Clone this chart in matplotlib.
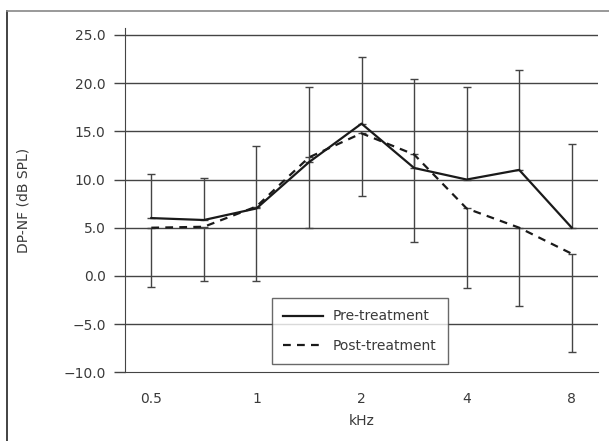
import matplotlib.pyplot as plt
from matplotlib.lines import Line2D

# frequencies (kHz) - only every other one gets a tick label
freqs = ["0.5", "0.75", "1", "1.5", "2", "3", "4", "6", "8"]
tick_labels = ["0.5", "", "1", "", "2", "", "4", "", "8"]

pre = [6.0, 5.8, 7.0, 11.8, 15.8, 11.2, 10.0, 11.0, 5.0]
pre_sd = [4.6, 4.4, 6.5, 7.8, 6.9, 9.2, 9.6, 10.4, 8.7]

post = [5.0, 5.1, 7.2, 12.3, 14.8, 12.6, 7.0, 5.0, 2.3]
post_sd = [6.1, 5.6, 7.7, 7.3, 6.5, 9.1, 8.3, 8.1, 10.2]

plt.rcParams['font.family'] = ['DejaVu Sans']
txt_col = '#3a3a3a'

fig = plt.figure(figsize=(6.09, 4.41), dpi=100)
ax = fig.add_axes([0.2053, 0.1558, 0.7767, 0.7802])

x = list(range(len(freqs)))

# grid first so lines sit on top
for yv in range(-5, 30, 5):
    ax.axhline(yv, color='#444444', lw=1.0, zorder=1)

# pre: upward error bars only, post: downward only
ax.errorbar(x, pre, yerr=[[0] * len(pre), pre_sd], fmt='none',
            ecolor='#444444', elinewidth=1.0, capsize=3, capthick=1.0, zorder=2)
ax.errorbar(x, post, yerr=[post_sd, [0] * len(post)], fmt='none',
            ecolor='#444444', elinewidth=1.0, capsize=3, capthick=1.0, zorder=2)

ax.plot(x, pre, color='#1a1a1a', lw=1.6, ls='-', label='Pre-treatment', zorder=3)
ax.plot(x, post, color='#1a1a1a', lw=1.6, ls=(0, (3.5, 2.8)), label='Post-treatment', zorder=3)

ax.set_xlim(-0.5, len(freqs) - 0.5)
ax.set_ylim(-10, 25.7)
ax.set_yticks(range(-10, 30, 5))
ax.set_yticklabels([f"{v:.1f}".replace('-', '\u2212') for v in range(-10, 30, 5)])
ax.set_xticks(x)
ax.set_xticklabels(tick_labels)

ax.spines['top'].set_visible(False)
ax.spines['right'].set_visible(False)
ax.spines['left'].set_color('#444444')
ax.spines['bottom'].set_color('#444444')
ax.tick_params(axis='y', length=8, width=1.0, color='#444444', labelsize=10,
               labelcolor=txt_col, pad=6)
ax.tick_params(axis='x', length=0, labelsize=10, labelcolor=txt_col, pad=14)

ax.set_xlabel('kHz', fontsize=10, color=txt_col, labelpad=6)
ax.set_ylabel('DP-NF (dB SPL)', fontsize=10, color=txt_col)
ax.yaxis.set_label_coords(-0.199, 0.5)

leg = ax.legend(loc='upper left', bbox_to_anchor=(0.310, 0.215), borderaxespad=0,
                fontsize=10, frameon=True, fancybox=False, edgecolor='#444444',
                handlelength=2.9, handletextpad=0.7, borderpad=0.8,
                labelspacing=1.1, labelcolor=txt_col)
leg.get_frame().set_linewidth(1.0)
leg.set_zorder(5)

# outer frame around the figure
fig.add_artist(Line2D([7 / 609, 7 / 609], [0, 1 - 11 / 441], transform=fig.transFigure,
                      color='#222222', lw=1.2))
fig.add_artist(Line2D([7 / 609, 1], [1 - 11 / 441, 1 - 11 / 441], transform=fig.transFigure,
                      color='#888888', lw=1.2))

fig.savefig('out.png', dpi=100)
